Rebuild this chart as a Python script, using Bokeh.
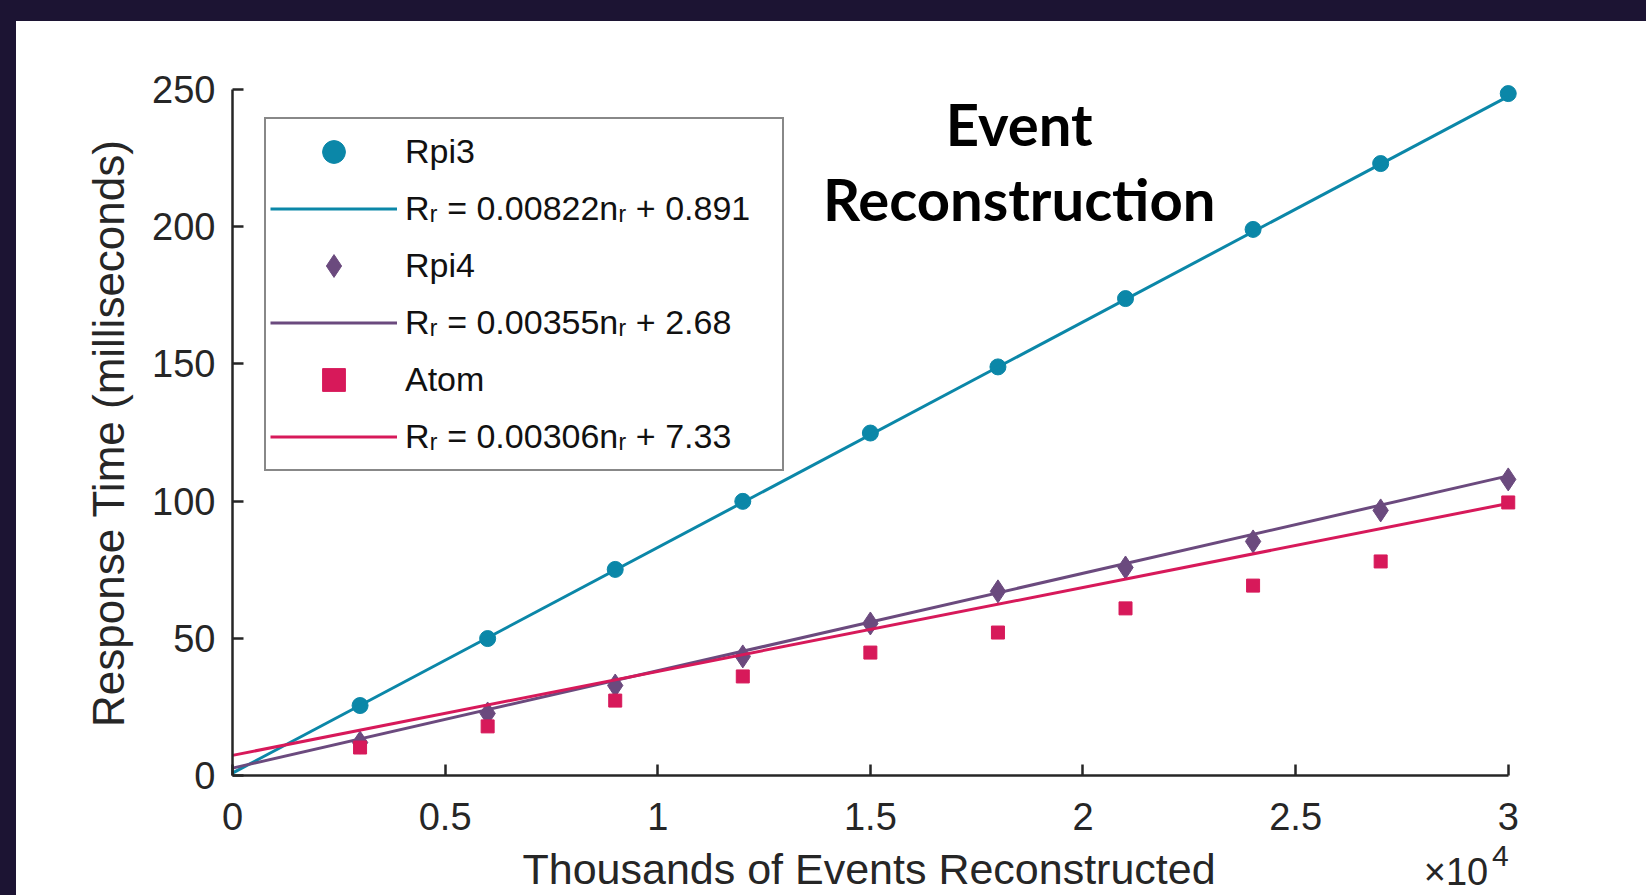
from bokeh.plotting import figure
from bokeh.models import Range1d, FixedTicker, Label, Legend, LegendItem
from bokeh.layouts import column
from bokeh.embed import file_html
from bokeh.resources import INLINE

# ---------------- data ----------------
events = [3000, 6000, 9000, 12000, 15000, 18000, 21000, 24000, 27000, 30000]
rpi3_ms = [25.5, 49.9, 75.1, 99.9, 124.8, 148.9, 173.8, 199.0, 223.0, 248.5]
rpi4_ms = [12.0, 22.6, 32.8, 43.4, 55.4, 67.1, 75.8, 85.3, 96.6, 107.9]
atom_ms = [10.2, 17.9, 27.3, 36.1, 44.8, 52.1, 60.9, 69.2, 78.0, 99.5]

series_names = ["Rpi3", "Rpi4", "Atom"]
fit_slopes = [0.00822, 0.00355, 0.00306]
fit_intercepts = [0.891, 2.68, 7.33]
fit_span = [0, 30000]

x_ticks = [0, 5000, 10000, 15000, 20000, 25000, 30000]
x_tick_labels = ["0", "0.5", "1", "1.5", "2", "2.5", "3"]
y_ticks = [0, 50, 100, 150, 200, 250]

title_lines = ["Event", "Reconstruction"]
x_label = "Thousands of Events Reconstructed"
y_label = "Response Time (milliseconds)"

# ---------------- style ----------------
colors = ["#0B87A8", "#6B4A7E", "#D7195A"]
markers = ["circle", "diamond", "square"]
marker_sizes = [16, 23, 13]
axis_color = "#262626"
dark_bg = "#1C1433"

p = figure(width=1630, height=874,
           x_range=Range1d(0, 30500), y_range=Range1d(0, 254),
           output_backend="svg", toolbar_location=None,
           min_border_left=216, min_border_right=117,
           min_border_top=57, min_border_bottom=120,
           background_fill_color="white", border_fill_color="white")
p.outline_line_color = None
p.margin = (21, 0, 0, 16)
p.styles = {"background-color": "white"}
p.xgrid.visible = False
p.ygrid.visible = False

for ax in (p.xaxis[0], p.yaxis[0]):
    ax.axis_line_color = axis_color
    ax.axis_line_width = 2.5
    ax.major_tick_line_color = axis_color
    ax.major_tick_line_width = 2.5
    ax.major_tick_in = 11
    ax.major_tick_out = 0
    ax.minor_tick_line_color = None
    ax.major_label_text_font = "Liberation Sans"
    ax.major_label_text_font_size = "38px"
    ax.major_label_text_color = axis_color
    ax.axis_label_text_font = "Liberation Sans"
    ax.axis_label_text_font_style = "normal"
    ax.axis_label_text_color = axis_color

p.xaxis.ticker = FixedTicker(ticks=x_ticks)
p.xaxis.major_label_overrides = {t: s for t, s in zip(x_ticks, x_tick_labels)}
p.xaxis.bounds = (x_ticks[0], x_ticks[-1])
p.xaxis.major_label_standoff = 27
p.xaxis.axis_label = x_label + "\u00a0\u00a0"
p.xaxis.axis_label_text_font_size = "43px"
p.xaxis.axis_label_standoff = 12

p.yaxis.ticker = FixedTicker(ticks=y_ticks)
p.yaxis.bounds = (y_ticks[0], y_ticks[-1])
p.yaxis.major_label_standoff = 17
p.yaxis.axis_label = y_label + "\u00a0"
p.yaxis.axis_label_text_font_size = "44px"
p.yaxis.axis_label_standoff = 16

series_values = [rpi3_ms, rpi4_ms, atom_ms]
items = []
for name, vals, col, mk, ms, a, b in zip(series_names, series_values, colors, markers,
                                          marker_sizes, fit_slopes, fit_intercepts):
    rs = p.scatter(events, vals, marker=mk, size=ms, fill_color=col, line_color=col)
    fy = [a * x + b for x in fit_span]
    rl = p.line(fit_span, fy, line_color=col, line_width=3)
    items.append(LegendItem(label=name, renderers=[rs]))
    items.append(LegendItem(label=f"R\u1d63 = {a:.5f}n\u1d63 + {b}", renderers=[rl]))

legend = Legend(items=items, location=(32, 304), margin=0, padding=4, spacing=0,
                glyph_height=57, glyph_width=127, label_standoff=8,
                label_width=373,
                border_line_color="#111111", border_line_width=2.5,
                background_fill_color="white", background_fill_alpha=1.0,
                label_text_font="Liberation Sans", label_text_font_size="34px",
                label_text_color="#111111")
p.add_layout(legend)

# title (inside plot area)
for txt, yv in zip(title_lines, [237.6, 210.3]):
    p.add_layout(Label(x=18500, y=yv, text=txt, text_align="center",
                       text_baseline="alphabetic", text_font="Lato",
                       text_font_style="bold", text_font_size="58px",
                       text_color="black"))

# exponent label (kept in a side panel so it is not clipped to the frame)
p.add_layout(Label(x=29530, y=-35.0, text="\u00d710", text_align="right",
                   text_baseline="alphabetic", text_font="Liberation Sans",
                   text_font_size="38px", text_color=axis_color), "right")
p.add_layout(Label(x=29620, y=-29.2, text="4", text_align="left",
                   text_baseline="alphabetic", text_font="Liberation Sans",
                   text_font_size="30px", text_color=axis_color), "right")

layout = column(p, styles={"background-color": dark_bg})

open("out.html", "w").write(file_html(layout, INLINE))
